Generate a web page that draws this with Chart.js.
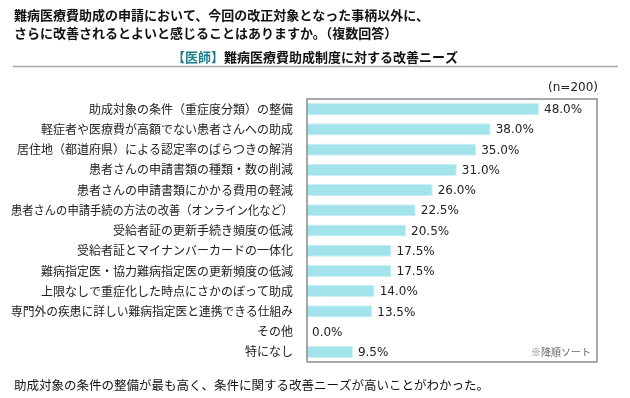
<!DOCTYPE html>
<html>
<head>
<meta charset="utf-8">
<script src="https://cdn.jsdelivr.net/npm/chart.js@4/dist/chart.umd.min.js"></script>
<style>
  html, body { margin: 0; padding: 0; background: #fff; }
  #wrap { width: 630px; height: 398px; }
</style>
</head>
<body>
<div id="wrap"><canvas id="needsChart" width="630" height="398"></canvas></div>
<script>
const categories = [
  "助成対象の条件（重症度分類）の整備",
  "軽症者や医療費が高額でない患者さんへの助成",
  "居住地（都道府県）による認定率のばらつきの解消",
  "患者さんの申請書類の種類・数の削減",
  "患者さんの申請書類にかかる費用の軽減",
  "患者さんの申請手続の方法の改善（オンライン化など）",
  "受給者証の更新手続き頻度の低減",
  "受給者証とマイナンバーカードの一体化",
  "難病指定医・協力難病指定医の更新頻度の低減",
  "上限なしで重症化した時点にさかのぼって助成",
  "専門外の疾患に詳しい難病指定医と連携できる仕組み",
  "その他",
  "特になし"
];
const percentValues = [48.0, 38.0, 35.0, 31.0, 26.0, 22.5, 20.5, 17.5, 17.5, 14.0, 13.5, 0.0, 9.5];
const titleLines = [
  "難病医療費助成の申請において、今回の改正対象となった事柄以外に、",
  "さらに改善されるとよいと感じることはありますか。（複数回答）"
];
const subtitleTag = "【医師】";
const subtitleText = "難病医療費助成制度に対する改善ニーズ";
const sampleNote = "(n=200)";
const sortNote = "※降順ソート";
const summaryText = "助成対象の条件の整備が最も高く、条件に関する改善ニーズが高いことがわかった。";

const JP = '"Noto Sans CJK JP", "Noto Sans", sans-serif';
const NUM = '"DejaVu Sans", Verdana, sans-serif';

const decorations = {
  id: "decorations",
  afterDraw(chart) {
    const ctx = chart.ctx;
    const area = chart.chartArea;
    const x = chart.scales.x;
    const y = chart.scales.y;
    ctx.save();

    // titles
    ctx.fillStyle = "#111";
    ctx.textBaseline = "middle";
    ctx.textAlign = "left";
    ctx.font = "bold 13px " + JP;
    ctx.fillText(titleLines[0], 14, 15);
    ctx.fillText(titleLines[1], 14, 33);

    ctx.font = "bold 13px " + JP;
    const tagW = ctx.measureText(subtitleTag).width;
    const txtW = ctx.measureText(subtitleText).width;
    let sx = 315 - (tagW + txtW) / 2;
    ctx.fillStyle = "#1d7e8c";
    ctx.fillText(subtitleTag, sx, 57);
    ctx.fillStyle = "#111";
    ctx.fillText(subtitleText, sx + tagW, 57);

    ctx.strokeStyle = "#a6a6a6";
    ctx.lineWidth = 1.5;
    ctx.beginPath();
    ctx.moveTo(13, 66.5);
    ctx.lineTo(618, 66.5);
    ctx.stroke();

    // plot frame
    ctx.strokeStyle = "#8c8c8c";
    ctx.lineWidth = 1.5;
    ctx.strokeRect(area.left, area.top, area.right - area.left, area.bottom - area.top);

    // category labels
    ctx.fillStyle = "#222";
    ctx.textAlign = "right";
    ctx.font = "12px " + JP;
    categories.forEach((c, i) => {
      ctx.fillText(c, 293, y.getPixelForValue(i), 282);
    });

    // value labels
    ctx.textAlign = "left";
    ctx.font = "12px " + NUM;
    ctx.fillStyle = "#222";
    percentValues.forEach((v, i) => {
      ctx.fillText(v.toFixed(1) + "%", x.getPixelForValue(v) + 5, y.getPixelForValue(i) + 1);
    });

    // notes
    ctx.textAlign = "right";
    ctx.fillText(sampleNote, 598, 88);
    ctx.font = "10px " + JP;
    ctx.fillStyle = "#666";
    ctx.fillText(sortNote, 591, 352);

    ctx.textAlign = "left";
    ctx.font = "12.5px " + JP;
    ctx.fillStyle = "#111";
    ctx.fillText(summaryText, 14, 385);

    ctx.restore();
  }
};

new Chart(document.getElementById("needsChart"), {
  type: "bar",
  data: {
    labels: categories,
    datasets: [{
      data: percentValues,
      backgroundColor: "#a2e3ec",
      borderColor: "#c9f0f5",
      borderWidth: 1,
      categoryPercentage: 1,
      barPercentage: 0.6
    }]
  },
  options: {
    indexAxis: "y",
    responsive: false,
    animation: false,
    layout: { padding: { left: 307, right: 33, top: 99, bottom: 36 } },
    plugins: { legend: { display: false }, tooltip: { enabled: false } },
    scales: {
      x: { display: false, min: 0, max: 60 },
      y: { display: false }
    }
  },
  plugins: [decorations]
});
</script>
</body>
</html>
